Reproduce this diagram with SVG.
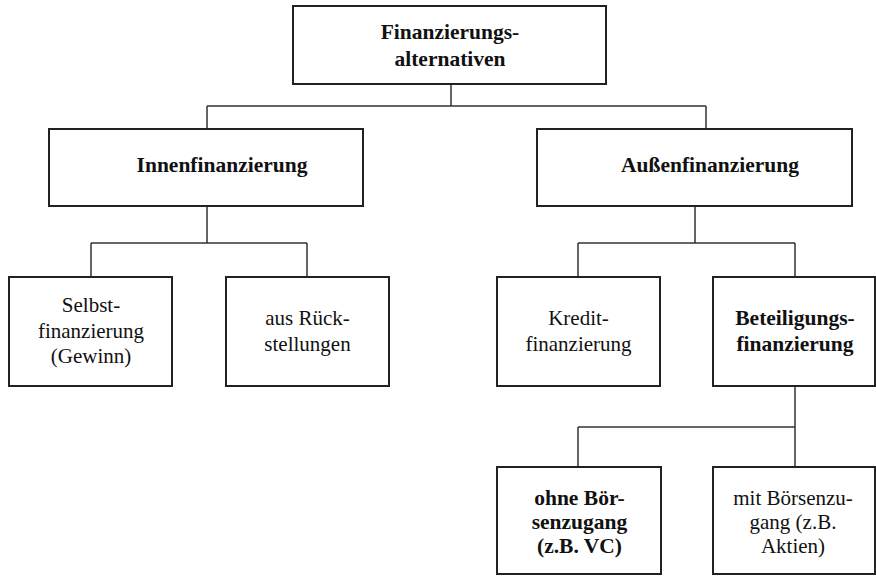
<svg xmlns="http://www.w3.org/2000/svg" width="876" height="576" viewBox="0 0 876 576">
<style>
.box{fill:#fff;stroke:#222;stroke-width:2}
.ln{fill:none;stroke:#333;stroke-width:1.5}
text{font-family:'Liberation Serif','Times New Roman',serif;fill:#111;text-anchor:middle}
.b{font-weight:bold;font-size:21.5px}
.r{font-size:21px}
</style>
<rect width="876" height="576" fill="#fff"/>
<g id="connectors">
<path class="ln" d="M451,84 V106 M207,106 H706 M207,106 V129 M706,106 V129"/>
<path class="ln" d="M207,206 V243 M91,243 H307 M91,243 V277 M307,243 V277"/>
<path class="ln" d="M695,206 V243 M578,243 H795 M578,243 V277 M795,243 V277"/>
<path class="ln" d="M795,386 V467 M578,427 H795 M578,427 V467"/>
</g>
<g id="n-root"><rect class="box" x="293" y="6" width="313" height="78"/>
<text class="b" x="450" y="39">Finanzierungs-</text><text class="b" x="450" y="66">alternativen</text></g>
<g id="n-innen"><rect class="box" x="49" y="129" width="314" height="77"/>
<text class="b" x="222" y="172">Innenfinanzierung</text></g>
<g id="n-aussen"><rect class="box" x="537" y="129" width="315" height="77"/>
<text class="b" x="710" y="172">Außenfinanzierung</text></g>
<g id="n-selbst"><rect class="box" x="9" y="277" width="163" height="109"/>
<text class="r" x="91" y="312">Selbst-</text><text class="r" x="91" y="338">finanzierung</text><text class="r" x="91" y="363">(Gewinn)</text></g>
<g id="n-rueck"><rect class="box" x="226" y="277" width="163" height="109"/>
<text class="r" x="307.5" y="325">aus Rück-</text><text class="r" x="307.5" y="351">stellungen</text></g>
<g id="n-kredit"><rect class="box" x="497" y="277" width="163" height="109"/>
<text class="r" x="578.5" y="325">Kredit-</text><text class="r" x="578.5" y="351">finanzierung</text></g>
<g id="n-beteil"><rect class="box" x="713" y="277" width="162" height="109"/>
<text class="b" x="795" y="325">Beteiligungs-</text><text class="b" x="795" y="351">finanzierung</text></g>
<g id="n-ohne"><rect class="box" x="497" y="467" width="164" height="107"/>
<text class="b" x="579.5" y="505">ohne Bör-</text><text class="b" x="579.5" y="529">senzugang</text><text class="b" x="579.5" y="553">(z.B. VC)</text></g>
<g id="n-mit"><rect class="box" x="713" y="467" width="162" height="107"/>
<text class="r" x="793" y="505">mit Börsenzu-</text><text class="r" x="793" y="529">gang (z.B.</text><text class="r" x="793" y="553">Aktien)</text></g>
</svg>
